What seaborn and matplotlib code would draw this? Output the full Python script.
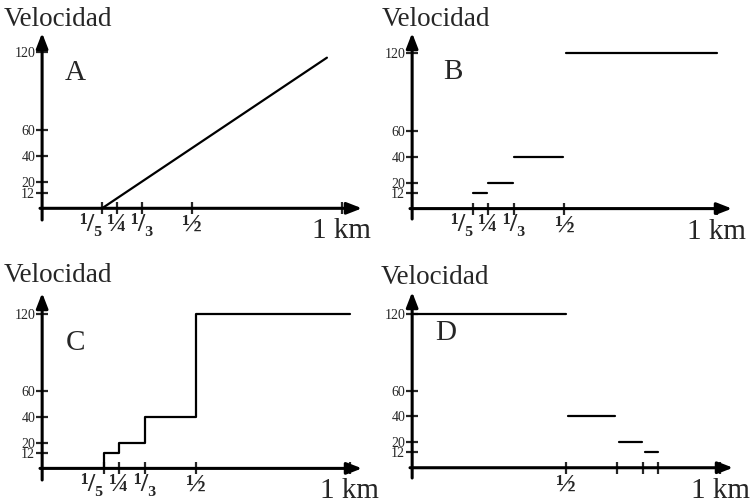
import matplotlib
matplotlib.use("Agg")
import matplotlib.pyplot as plt
import seaborn as sns
import pandas as pd

# ---------------- data ----------------
y_ticks = [12, 20, 40, 60, 120]
frac_ticks = [1/5, 1/4, 1/3, 1/2, 1.0]
frac_labels = ["¹/₅", "¼", "¹/₃", "½", ""]
d_ticks = [1/2, 2/3, 3/4, 4/5, 1.0]
d_labels = ["½", "", "", "", ""]
km_label = "1 km"

# A: straight line
a_x = [0.2, 0.95]
a_v = [0, 116]

# B: separate horizontal segments
b_x0 = [0.20, 0.25, 0.335, 0.505]
b_x1 = [0.245, 0.33, 0.495, 1.0]
b_v = [12, 20, 40, 120]

# C: staircase
c_x = [0.2, 0.2, 0.25, 0.25, 1/3, 1/3, 0.5, 0.5, 1.0]
c_v = [0, 12, 12, 20, 20, 40, 40, 120, 120]

# D: separate horizontal segments (decreasing)
d_x0 = [0.0, 0.505, 0.672, 0.755]
d_x1 = [0.5, 0.66, 0.745, 0.80]
d_v = [120, 40, 20, 12]

sns.set_style("white")
plt.rcParams["font.family"] = ["Liberation Serif", "DejaVu Serif"]

W, H = 753, 501
fig = plt.figure(figsize=(W / 100, H / 100), dpi=100)


def make_ax(left_px, right_px, top_px, bottom_px):
    return fig.add_axes([left_px / W, 1 - bottom_px / H,
                         (right_px - left_px) / W, (bottom_px - top_px) / H])


def style_ax(ax, xlim, ylim, ticks, labels):
    ax.set_xlim(*xlim)
    ax.set_ylim(*ylim)
    for s in ["top", "right", "left", "bottom"]:
        ax.spines[s].set_visible(False)
    ax.spines["left"].set_position(("data", 0))
    ax.spines["bottom"].set_position(("data", 0))
    ax.patch.set_alpha(0)
    arrow = dict(arrowstyle="-|>,head_length=0.9,head_width=0.35",
                 color="black", lw=2.2, shrinkA=0, shrinkB=0)
    ax.annotate("", xy=(xlim[1], 0), xytext=(xlim[0], 0),
                arrowprops=arrow, annotation_clip=False)
    ax.annotate("", xy=(0, ylim[1]), xytext=(0, ylim[0]),
                arrowprops=arrow, annotation_clip=False)
    ax.set_yticks(y_ticks)
    ax.set_yticklabels([str(v) for v in y_ticks], fontsize=10)
    ax.tick_params(axis="y", direction="inout", length=8, width=1.6,
                   pad=1, left=True)
    ax.tick_params(axis="x", direction="inout", length=9, width=1.6,
                   pad=-1, bottom=True)
    ax.set_xticks(ticks)
    ax.set_xticklabels(labels, fontsize=19, fontweight="bold")
    if labels[0] == "¹/₅":
        ax.get_xticklabels()[0].set_horizontalalignment("right")
    ax.set_xlabel("")
    ax.set_ylabel("")
    leg = ax.get_legend()
    if leg is not None:
        leg.remove()
    # "1 km" label under the last tick
    ax.annotate(km_label, xy=(1.0, 0), xytext=(0, -10),
                textcoords="offset pixels", ha="center", va="top",
                fontsize=21, annotation_clip=False)


def segments_df(x0, x1, v):
    rows = []
    for i, (a, b, c) in enumerate(zip(x0, x1, v)):
        rows.append({"x": a, "v": c, "seg": i})
        rows.append({"x": b, "v": c, "seg": i})
    return pd.DataFrame(rows)


lw = 1.6

# ---- A ----
limA = ((-0.007, 1.067), (-9, 135))
axA = make_ax(40, 362, 33, 220)
dfA = pd.DataFrame({"x": a_x, "v": a_v, "seg": 0})
sns.lineplot(data=dfA, x="x", y="v", units="seg", estimator=None,
             ax=axA, color="black", lw=lw, sort=False)
style_ax(axA, *limA, frac_ticks, frac_labels)
axA.text(0.11, 104, "A", fontsize=21, ha="center", va="center")

# ---- B ----
limB = ((-0.007, 1.05), (-8, 135))
axB = make_ax(410, 732, 33, 219)
sns.lineplot(data=segments_df(b_x0, b_x1, b_v), x="x", y="v", units="seg",
             estimator=None, ax=axB, color="black", lw=lw, sort=False)
style_ax(axB, *limB, frac_ticks, frac_labels)
axB.text(0.134, 105, "B", fontsize=21, ha="center", va="center")

# ---- C ----
limC = ((-0.007, 1.04), (-9, 136))
axC = make_ax(40, 362, 293, 480)
dfC = pd.DataFrame({"x": c_x, "v": c_v, "seg": 0})
sns.lineplot(data=dfC, x="x", y="v", units="seg", estimator=None,
             ax=axC, color="black", lw=lw, sort=False)
style_ax(axC, *limC, frac_ticks, frac_labels)
axC.text(0.107, 97, "C", fontsize=21, ha="center", va="center")

# ---- D ----
limD = ((-0.007, 1.042), (-8, 137))
axD = make_ax(410, 733, 292, 478)
sns.lineplot(data=segments_df(d_x0, d_x1, d_v), x="x", y="v", units="seg",
             estimator=None, ax=axD, color="black", lw=lw, sort=False)
style_ax(axD, *limD, d_ticks, d_labels)
axD.text(0.11, 105, "D", fontsize=21, ha="center", va="center")

# "Velocidad" axis titles
for (px, py) in [(4, 20), (382, 20), (4, 275), (381, 278)]:
    fig.text(px / W, 1 - py / H, "Velocidad", fontsize=19.5,
             ha="left", va="center")

fig.savefig("out.png", dpi=100)
